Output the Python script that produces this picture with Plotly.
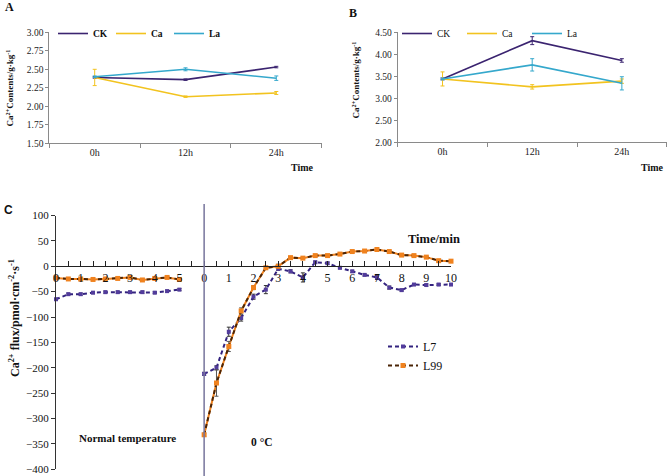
import plotly.graph_objects as go

W, H = 669, 476


def fx(x):
    return x / W


def fy(y):
    return 1 - y / H


SERIF = "Liberation Serif"

# ---------------- Panel A / B data ----------------
times_ab = ["0h", "12h", "24h"]

a_ck = [2.39, 2.36, 2.53]
a_ca = [2.39, 2.13, 2.18]
a_la = [2.40, 2.50, 2.38]
a_ck_err = [0.01, 0.01, 0.01]
a_ca_err = [0.11, 0.01, 0.02]
a_la_err = [0.01, 0.02, 0.03]

b_ck = [3.44, 4.31, 3.86]
b_ca = [3.44, 3.26, 3.39]
b_la = [3.44, 3.76, 3.34]
b_ck_err = [0.02, 0.09, 0.04]
b_ca_err = [0.16, 0.05, 0.05]
b_la_err = [0.02, 0.14, 0.15]

# ---------------- Panel C data ----------------
time_normal = [0, 0.5, 1, 1.5, 2, 2.5, 3, 3.5, 4, 4.5, 5]
time_cold = [0, 0.5, 1, 1.5, 2, 2.5, 3, 3.5, 4, 4.5, 5,
             5.5, 6, 6.5, 7, 7.5, 8, 8.5, 9, 9.5, 10]
labels_normal = [0, 1, 2, 3, 4, 5]
labels_cold = [0, 1, 2, 3, 4, 5, 6, 7, 8, 9, 10]

l7_normal = [-65, -55, -55, -52, -51, -51, -51, -51, -52, -49, -46]
l99_normal = [-23, -25, -25, -26, -25, -24, -22, -27, -24, -22, -26]
l7_normal_err = [2, 2, 2, 2, 2, 2, 2, 2, 2, 2, 2]
l99_normal_err = [2, 2, 2, 2, 2, 2, 2, 2, 2, 2, 2]

l7_cold = [-212, -200, -129, -102, -60, -46, -5, -10, -22, 8, 6,
           -3, -10, -17, -22, -42, -47, -36, -37, -36, -36]
l99_cold = [-332, -230, -158, -88, -42, -3, 0, 17, 16, 21, 21,
            24, 29, 30, 33, 29, 22, 21, 18, 11, 10]
l7_cold_err = [3, 4, 9, 6, 5, 8, 3, 3, 9, 2, 2, 2, 2, 2, 4, 3, 2, 2, 2, 2, 2]
l99_cold_err = [3, 26, 10, 6, 4, 3, 4, 2, 2, 2, 2, 2, 2, 2, 2, 2, 2, 2, 2, 2, 2]

COLD_OFFSET = 6  # gap between the two time segments on the shared axis

C_CK = "#3b2470"
C_CA = "#f2c31f"
C_LA = "#35a8cc"
C_L7 = "#33237f"
C_L7M = "#523c9c"
C_L99 = "#f0821e"
C_L99D = "#4a2406"

fig = go.Figure()


def add_ab(vals, errs, name, color, xa, ya, legend):
    fig.add_trace(go.Scatter(
        x=times_ab, y=vals, name=name, mode="lines",
        line=dict(color=color, width=1.6),
        error_y=dict(type="data", array=errs, color=color, thickness=1, width=2),
        xaxis=xa, yaxis=ya, legend=legend))


add_ab(a_ck, a_ck_err, "CK", C_CK, "x", "y", "legend")
add_ab(a_ca, a_ca_err, "Ca", C_CA, "x", "y", "legend")
add_ab(a_la, a_la_err, "La", C_LA, "x", "y", "legend")
add_ab(b_ck, b_ck_err, "CK", C_CK, "x2", "y2", "legend2")
add_ab(b_ca, b_ca_err, "Ca", C_CA, "x2", "y2", "legend2")
add_ab(b_la, b_la_err, "La", C_LA, "x2", "y2", "legend2")

# Panel C
segments = [
    (time_normal, 0, l7_normal, l7_normal_err, l99_normal, l99_normal_err, True),
    (time_cold, COLD_OFFSET, l7_cold, l7_cold_err, l99_cold, l99_cold_err, False),
]
for times, off, l7v, l7e, l99v, l99e, first in segments:
    xs = [t + off for t in times]
    fig.add_trace(go.Scatter(
        x=xs, y=l7v, name="L7", legendgroup="l7", showlegend=first,
        mode="lines+markers",
        line=dict(color=C_L7, width=2, dash="4px,3px"),
        marker=dict(symbol="square", size=4, color=C_L7M),
        error_y=dict(type="data", array=l7e, color="#333", thickness=1, width=2),
        xaxis="x3", yaxis="y3", legend="legend3", cliponaxis=False))
for times, off, l7v, l7e, l99v, l99e, first in segments:
    xs = [t + off for t in times]
    fig.add_trace(go.Scatter(
        x=xs, y=l99v, name="L99", legendgroup="l99", showlegend=False,
        mode="lines", line=dict(color=C_L99, width=2),
        xaxis="x3", yaxis="y3", legend="legend3", hoverinfo="skip", cliponaxis=False))
    fig.add_trace(go.Scatter(
        x=xs, y=l99v, name="L99", legendgroup="l99", showlegend=first,
        mode="lines+markers",
        line=dict(color=C_L99D, width=2, dash="4px,3px"),
        marker=dict(symbol="square", size=5, color=C_L99),
        error_y=dict(type="data", array=l99e, color="#555", thickness=1, width=2),
        xaxis="x3", yaxis="y3", legend="legend3", cliponaxis=False))

# ---- axes ----
tickfont = dict(family=SERIF, size=10, color="#222")
ax_ab = dict(type="category", range=[-0.5, 2.5], showline=True, linecolor="#8a8a8a",
             linewidth=1, ticks="outside", tickson="boundaries", ticklen=4,
             tickcolor="#8a8a8a", showgrid=False, zeroline=False, tickfont=tickfont,
             fixedrange=True, automargin=False)
ay_ab = dict(showline=True, linecolor="#8a8a8a", linewidth=1, ticks="outside",
             ticklen=3, tickcolor="#8a8a8a", showgrid=False, zeroline=False,
             tickfont=dict(family=SERIF, size=9.5, color="#222"), tickformat=".2f",
             automargin=False)

yc_range = [-400, 100]
yc_dom = [fy(469.3), fy(215.5)]
xc_pos = yc_dom[0] + (0 - yc_range[0]) / (yc_range[1] - yc_range[0]) * (yc_dom[1] - yc_dom[0])

xc_vals = [v for v in labels_normal] + [v + COLD_OFFSET for v in labels_cold]
xc_text = [str(v) for v in labels_normal] + [str(v) for v in labels_cold]

fig.update_layout(
    width=W, height=H, autosize=False,
    margin=dict(l=0, r=0, t=0, b=0, pad=0, autoexpand=False),
    paper_bgcolor="white", plot_bgcolor="white",
    font=dict(family=SERIF, color="#111"),
    xaxis=dict(ax_ab, domain=[fx(49.3), fx(321.7)], anchor="y"),
    yaxis=dict(ay_ab, domain=[fy(143.3), fy(32.3)], range=[1.5, 3.0], dtick=0.25, anchor="x"),
    xaxis2=dict(ax_ab, domain=[fx(397.7), fx(666.7)], anchor="y2"),
    yaxis2=dict(ay_ab, domain=[fy(142.3), fy(32.3)], range=[2.0, 4.5], dtick=0.5, anchor="x2"),
    xaxis3=dict(domain=[fx(56), fx(451)], range=[0, 16], anchor="free", position=xc_pos,
                tickmode="array", tickvals=xc_vals, ticktext=xc_text,
                showline=True, linecolor="#222", linewidth=1, ticks="inside", ticklen=5,
                tickcolor="#222", showgrid=False, zeroline=False, automargin=False,
                minor=dict(tick0=0, dtick=0.5, ticks="inside", ticklen=5,
                           tickcolor="#222", showgrid=False),
                tickfont=dict(family=SERIF, size=12, color="#111"), fixedrange=True),
    yaxis3=dict(domain=yc_dom, range=yc_range, dtick=50, anchor="x3",
                showline=True, linecolor="#333", linewidth=1, ticks="outside", ticklen=4,
                tickcolor="#333", showgrid=False, zeroline=False, automargin=False,
                tickfont=dict(family=SERIF, size=11, color="#111"), fixedrange=True),
    legend=dict(orientation="h", x=fx(53), y=fy(19), xanchor="left", yanchor="top",
                bgcolor="rgba(0,0,0,0)", font=dict(family=SERIF, size=9.5, color="#111",
                                                   weight="bold"),
                entrywidth=13, itemwidth=30),
    legend2=dict(orientation="h", x=fx(397), y=fy(19), xanchor="left", yanchor="top",
                 bgcolor="rgba(0,0,0,0)", font=dict(family=SERIF, size=9.5, color="#111"),
                 entrywidth=20, itemwidth=30),
    legend3=dict(orientation="v", x=fx(383), y=fy(332), xanchor="left", yanchor="top",
                 bgcolor="rgba(0,0,0,0)", font=dict(family=SERIF, size=12, color="#111"),
                 itemwidth=30, tracegroupgap=0),
    shapes=[dict(type="line", xref="x3", yref="paper", x0=COLD_OFFSET, x1=COLD_OFFSET,
                 y0=0, y1=fy(204), line=dict(color="#77759c", width=1.5))],
)

ann = []


def add_text(x, y, text, size, bold=True, angle=0, family=SERIF, xanchor="center"):
    ann.append(dict(xref="paper", yref="paper", x=fx(x), y=fy(y), text=text,
                    showarrow=False, textangle=angle, xanchor=xanchor, yanchor="middle",
                    font=dict(family=family, size=size, color="#111",
                              weight="bold" if bold else "normal")))


add_text(9.5, 7, "A", 12)
add_text(352.5, 13, "B", 12)
add_text(8.5, 209.5, "C", 12, family="Liberation Sans")
add_text(9.5, 88, "Ca<sup>2+</sup>Contents/g·kg<sup>-1</sup>", 9, angle=-90)
add_text(355.5, 80, "Ca<sup>2+</sup>Contents/g·kg<sup>-1</sup>", 9, angle=-90)
add_text(316, 167, "Time", 10, xanchor="right")
add_text(666, 167, "Time", 10, xanchor="right")
add_text(14, 318, "Ca<sup>2+</sup> flux/pmol·cm<sup>-2</sup>·s<sup>-1</sup>", 12, angle=-90)
add_text(434, 238.5, "Time/min", 12.5)
add_text(127.5, 438, "Normal temperature", 11)
add_text(261.5, 442, "0 °C", 11.5)

fig.update_layout(annotations=ann)

fig.write_html(
    "out.html",
    config={"displayModeBar": False},
    post_script="document.body.style.margin='0px';document.body.style.overflow='hidden';",
)
